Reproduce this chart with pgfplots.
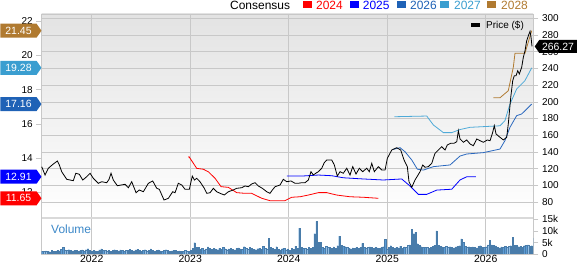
\documentclass[border=0pt]{standalone}
\usepackage{pgfplots}
\pgfplotsset{compat=1.18}
\usepackage{pgfplotstable}
\usepackage{fontspec}
\setmainfont{Liberation Sans}
\usetikzlibrary{shapes.symbols}
\definecolor{c24}{HTML}{FF0000}
\definecolor{c25}{HTML}{0000FF}
\definecolor{c26}{HTML}{2A68BE}
\definecolor{c27}{HTML}{4EAAD8}
\definecolor{c28}{HTML}{B07A30}
\definecolor{f26}{HTML}{1F62B6}
\definecolor{f27}{HTML}{3A9ED0}
\definecolor{gridc}{HTML}{C8C8C8}
\definecolor{volc}{HTML}{5B9BD5}
\definecolor{voltext}{HTML}{3C88C8}

\pgfplotstableread[row sep=\\]{v\\
1.3\\1.1\\1.4\\1.2\\1.0\\1.5\\1.3\\1.2\\1.6\\1.4\\
2.0\\3.0\\1.8\\1.5\\1.9\\1.6\\1.4\\1.7\\1.5\\1.3\\
1.6\\1.8\\1.4\\1.9\\2.3\\1.5\\1.3\\1.6\\1.4\\1.2\\
1.8\\2.2\\1.5\\1.6\\1.4\\1.7\\1.3\\1.5\\1.9\\1.6\\
1.4\\1.8\\1.6\\1.3\\1.7\\1.5\\2.0\\1.6\\1.4\\1.8\\
2.1\\1.5\\1.3\\1.6\\1.9\\1.4\\1.7\\2.2\\1.5\\1.3\\
1.6\\1.8\\1.4\\1.2\\1.5\\1.9\\1.6\\1.3\\1.4\\1.7\\
1.5\\1.2\\1.4\\1.3\\1.1\\1.6\\1.4\\1.3\\1.8\\2.6\\
4.9\\3.0\\2.8\\2.0\\2.4\\1.8\\2.2\\3.1\\2.5\\2.0\\
2.6\\2.2\\1.9\\2.4\\2.0\\2.8\\2.3\\1.9\\2.2\\2.6\\
2.1\\1.8\\2.4\\2.7\\2.2\\2.0\\3.2\\2.6\\2.1\\3.0\\
2.4\\2.0\\1.9\\2.3\\2.6\\2.1\\3.3\\2.5\\2.2\\6.9\\
3.0\\2.4\\2.1\\3.2\\2.0\\1.7\\2.3\\2.6\\1.9\\2.2\\
1.6\\2.6\\2.0\\3.4\\2.5\\11.2\\2.8\\2.4\\2.6\\2.1\\
2.9\\2.5\\2.8\\8.8\\14.1\\5.2\\5.2\\3.0\\2.6\\3.3\\
2.8\\3.0\\2.5\\3.1\\2.6\\3.6\\7.8\\3.7\\3.4\\3.2\\
2.9\\2.5\\2.3\\2.7\\2.4\\3.0\\2.6\\2.8\\4.6\\3.0\\
2.7\\2.9\\3.1\\2.8\\2.6\\3.0\\2.7\\2.5\\2.8\\3.2\\
6.3\\2.2\\2.8\\3.6\\2.9\\2.4\\3.0\\2.7\\3.4\\2.6\\
3.1\\2.8\\3.8\\4.0\\10.7\\8.8\\9.5\\4.5\\3.7\\3.2\\
3.0\\2.8\\2.9\\2.6\\3.0\\3.3\\3.9\\10.0\\3.7\\3.4\\
3.1\\2.9\\3.3\\2.8\\3.2\\3.0\\2.7\\3.1\\3.4\\3.6\\
6.6\\5.0\\3.4\\3.0\\3.2\\2.8\\3.1\\3.0\\2.7\\3.3\\
3.6\\3.0\\2.8\\3.2\\4.0\\6.0\\4.0\\3.7\\3.5\\3.0\\
2.7\\3.1\\2.9\\3.3\\3.0\\3.4\\3.6\\7.3\\3.9\\3.7\\
3.2\\3.4\\3.0\\3.6\\3.8\\4.0\\3.3\\3.6\\7.0\\
}\voltab

\pgfplotsset{
  base/.style={scale only axis, width=491.3bp, xmin=2021.492, xmax=2026.48,
    tick label style={font=\fontsize{10}{12}\selectfont, text=black},
    /pgf/number format/assume math mode=true,
    tick style={gridc, line width=0.6pt}, major tick length=5.5bp,
    axis line style={gridc, line width=0.6pt},
    tick align=outside, clip=false,
  },
}
\tikzset{
  lflag/.style={signal, signal to=east, signal pointer angle=110, minimum height=14bp,
    minimum width=41bp, inner sep=1bp, text=white, font=\fontsize{10.5}{12}\selectfont, anchor=east},
}

\begin{document}
\begin{tikzpicture}
\useasboundingbox (0,0) rectangle (579bp,264bp);

% main price axis (background, grid, right ticks)
\begin{axis}[base, at={(41.7bp,47bp)}, anchor=south west, height=203bp,
  ymin=62.04, ymax=305.15, ytick={80,100,...,300},
  ytick pos=right, yticklabel pos=right,
  xtick={2022,2023,2024,2025,2026}, xticklabels={}, xtick style={draw=none},
  xmajorgrids, ymajorgrids, grid style={gridc, line width=0.6pt},
  axis background/.style={top color=black!11, bottom color=white}]
\end{axis}

% EPS consensus axis (left)
\begin{axis}[base, at={(41.7bp,47bp)}, anchor=south west, height=203bp,
  ymin=10.556, ymax=22.427, ytick={12,14,...,22},
  hide x axis, axis y line*=left]
\addplot[c24, line width=0.8pt, no marks] coordinates {
(2022.981,14.05)(2022.988,14.08)(2023.066,13.40)(2023.133,13.35)(2023.184,13.20)(2023.252,12.82)
(2023.313,12.33)(2023.387,12.29)(2023.472,11.98)(2023.556,11.94)(2023.624,11.94)(2023.726,11.65)
(2023.810,11.51)(2023.962,11.51)(2024.030,11.71)(2024.115,11.74)(2024.199,11.84)(2024.301,11.98)
(2024.386,11.98)(2024.487,11.84)(2024.622,11.74)(2024.757,11.71)(2024.910,11.65)};
\addplot[c25, line width=0.8pt, no marks] coordinates {
(2023.980,12.95)(2024.132,12.95)(2024.301,13.01)(2024.437,12.97)(2024.554,12.85)(2024.757,12.78)
(2024.960,12.72)(2025.147,12.78)(2025.231,12.37)(2025.316,11.88)(2025.401,11.88)(2025.503,12.13)
(2025.655,12.18)(2025.739,12.72)(2025.807,12.91)(2025.901,12.91)};
\addplot[c26, line width=0.8pt, no marks] coordinates {
(2025.062,14.51)(2025.130,14.61)(2025.181,14.37)(2025.249,13.89)(2025.306,13.35)(2025.367,13.30)
(2025.468,13.50)(2025.638,13.60)(2025.739,14.12)(2025.807,14.24)(2025.976,14.32)(2026.145,14.53)
(2026.195,15.02)(2026.246,15.80)(2026.314,16.48)(2026.365,16.58)(2026.416,16.87)(2026.467,17.16)};
\addplot[c27, line width=0.8pt, no marks] coordinates {
(2025.072,16.42)(2025.401,16.46)(2025.468,15.94)(2025.570,15.49)(2025.655,15.49)(2025.739,15.67)
(2025.841,15.80)(2025.976,15.84)(2026.145,15.89)(2026.195,16.19)(2026.246,17.16)(2026.314,18.04)
(2026.398,18.53)(2026.467,19.28)};
\addplot[c28, line width=0.8pt, no marks] coordinates {
(2026.077,17.53)(2026.145,17.53)(2026.229,17.94)(2026.280,19.31)(2026.297,20.13)(2026.398,20.13)
(2026.467,21.45)};
\node[lflag, fill=c28] at ({rel axis cs:0,0} |- {axis cs:2022,21.45}) {21.45};
\node[lflag, fill=f27] at ({rel axis cs:0,0} |- {axis cs:2022,19.28}) {19.28};
\node[lflag, fill=f26] at ({rel axis cs:0,0} |- {axis cs:2022,17.16}) {17.16};
\node[lflag, fill=c25] at ({rel axis cs:0,0} |- {axis cs:2022,12.91}) {12.91};
\node[lflag, fill=c24] at ({rel axis cs:0,0} |- {axis cs:2022,11.65}) {11.65};
\end{axis}

% price line on top
\begin{axis}[base, at={(41.7bp,47bp)}, anchor=south west, height=203bp,
  ymin=62.04, ymax=305.15, axis lines=none]
\addplot[black, line width=0.8pt, no marks] coordinates {
(2021.492,122.3)(2021.526,112.3)(2021.559,120.4)(2021.610,125.5)(2021.651,129.1)(2021.671,124.3)
(2021.695,116.3)(2021.746,107.2)(2021.813,105.5)(2021.838,114.4)(2021.874,113.2)(2021.909,106.3)
(2021.949,110.3)(2021.983,114.4)(2022.016,108.4)(2022.067,102.4)(2022.102,104.3)(2022.152,103.1)
(2022.176,107.2)(2022.196,114.4)(2022.219,106.3)(2022.260,99.5)(2022.338,101.2)(2022.372,97.1)
(2022.406,104.3)(2022.450,91.1)(2022.483,94.4)(2022.524,92.3)(2022.575,102.4)(2022.619,105.2)
(2022.660,96.4)(2022.686,95.2)(2022.734,82.4)(2022.778,84.4)(2022.822,92.3)(2022.846,91.1)
(2022.879,102.4)(2022.914,100.4)(2022.947,95.2)(2022.991,95.2)(2023.021,111.1)(2023.042,106.3)
(2023.066,108.4)(2023.099,104.3)(2023.143,96.4)(2023.168,90.4)(2023.201,91.1)(2023.235,96.4)
(2023.269,92.3)(2023.303,90.4)(2023.346,88.4)(2023.387,92.3)(2023.438,94.4)(2023.472,96.4)
(2023.523,97.1)(2023.556,99.2)(2023.590,98.3)(2023.624,101.6)(2023.658,103.1)(2023.691,99.2)
(2023.732,96.4)(2023.777,92.3)(2023.810,90.4)(2023.834,94.4)(2023.861,98.3)(2023.912,100.4)
(2023.945,107.2)(2023.980,104.3)(2024.023,105.2)(2024.064,102.4)(2024.097,102.4)(2024.132,103.1)
(2024.165,103.1)(2024.199,106.3)(2024.226,116.3)(2024.250,112.3)(2024.274,114.4)(2024.301,116.3)
(2024.335,120.4)(2024.361,127.1)(2024.386,130.3)(2024.437,130.3)(2024.463,124.3)(2024.493,111.1)
(2024.521,116.3)(2024.554,114.4)(2024.589,120.4)(2024.622,112.3)(2024.650,122.3)(2024.683,113.5)
(2024.717,120.4)(2024.751,116.3)(2024.792,120.4)(2024.818,116.3)(2024.843,126.3)(2024.869,116.3)
(2024.910,122.3)(2024.944,118.3)(2024.978,118.3)(2025.001,132.3)(2025.046,142.3)(2025.096,145.0)
(2025.137,142.3)(2025.171,130.3)(2025.204,122.3)(2025.221,104.3)(2025.249,97.6)(2025.282,106.3)
(2025.333,116.3)(2025.360,124.3)(2025.384,121.6)(2025.417,122.3)(2025.452,126.3)(2025.485,138.3)
(2025.519,142.3)(2025.553,146.2)(2025.587,142.3)(2025.610,148.3)(2025.645,150.3)(2025.678,150.3)
(2025.706,152.2)(2025.722,165.4)(2025.739,155.5)(2025.773,151.5)(2025.807,154.3)(2025.841,149.5)
(2025.874,147.4)(2025.909,155.5)(2025.942,153.4)(2025.976,151.5)(2026.016,154.3)(2026.044,153.4)
(2026.071,163.5)(2026.087,171.4)(2026.105,161.4)(2026.145,157.5)(2026.179,154.3)(2026.213,157.5)
(2026.229,173.4)(2026.254,205.4)(2026.274,225.3)(2026.290,231.3)(2026.308,231.3)(2026.325,237.2)
(2026.341,233.3)(2026.365,241.3)(2026.382,253.3)(2026.399,261.2)(2026.416,273.2)(2026.433,279.2)
(2026.450,284.4)(2026.460,277.2)(2026.470,266.27)};
\node[signal, signal to=west, signal pointer angle=110, fill=black, text=white,
  minimum height=13bp, minimum width=42bp, inner sep=1bp, anchor=west,
  font=\fontsize{10.5}{12}\selectfont, xshift=1.5bp]
  at ({rel axis cs:1,0} |- {axis cs:2022,266.27}) {266.27};
\end{axis}

% volume axis
\begin{axis}[base, at={(41.7bp,10bp)}, anchor=south west, height=36bp,
  ymin=0, ymax=15.6, ytick={0,5,10,15}, yticklabels={0,5k,10k,15k},
  ytick pos=right, yticklabel pos=right,
  xtick={2022,2023,2024,2025,2026}, xticklabels={2022,2023,2024,2025,2026},
  xtick style={draw=none}, xmajorgrids, grid style={gridc, line width=0.6pt},
  xticklabel style={font=\fontsize{10.5}{12}\selectfont, anchor=north, inner sep=0pt, yshift=4.5bp},
  clip=true]
\addplot[ybar, bar width=1.3bp, fill=volc, draw=volc!80!black, line width=0.2pt]
  table[x expr={2021.497+\coordindex/51.7}, y=v] {\voltab};
\end{axis}

% separator between panels
\draw[color=black!15, line width=2bp] (41.7bp,46.3bp) -- (533bp,46.3bp);

% Volume label
\node[anchor=west, inner sep=0pt, text=voltext, font=\fontsize{12}{14}\selectfont] at (51bp,35bp) {Volume};

% top legend
\begin{scope}[font=\fontsize{12}{14}\selectfont]
\node[anchor=west, inner sep=0pt] at (230bp,259bp) {Consensus};
\fill[c24] (303.3bp,255.7bp) rectangle (312bp,262.5bp);
\node[anchor=west, inner sep=0pt, text=c24] at (316bp,259bp) {2024};
\fill[c25] (350bp,255.7bp) rectangle (358.7bp,262.5bp);
\node[anchor=west, inner sep=0pt, text=c25] at (362.7bp,259bp) {2025};
\fill[f26] (397.3bp,255.7bp) rectangle (406bp,262.5bp);
\node[anchor=west, inner sep=0pt, text=f26] at (410bp,259bp) {2026};
\fill[f27] (440bp,255.7bp) rectangle (448.7bp,262.5bp);
\node[anchor=west, inner sep=0pt, text=f27] at (454bp,259bp) {2027};
\fill[c28] (487.3bp,255.7bp) rectangle (496bp,262.5bp);
\node[anchor=west, inner sep=0pt, text=c28] at (501bp,259bp) {2028};
\end{scope}

% price legend
\fill[black] (471bp,236.7bp) rectangle (480bp,240.7bp);
\node[anchor=west, inner sep=0pt, font=\fontsize{10}{12}\selectfont] at (486bp,238.5bp) {Price (\$)};
\end{tikzpicture}
\end{document}
